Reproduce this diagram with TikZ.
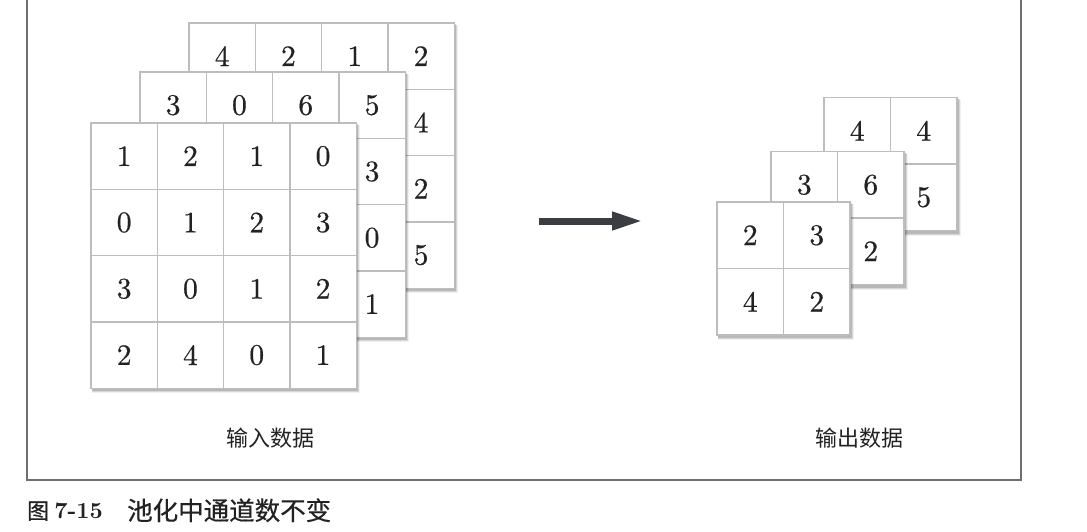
\documentclass[tikz,border=0pt]{standalone}
\usepackage{fontspec}
\newfontfamily\cjk{Noto Sans CJK SC}
\newfontfamily\cjkcap{Noto Sans CJK SC}[FakeBold=0.5]
\newfontfamily\numfont{Latin Modern Roman}[FakeBold=0.6]
\usetikzlibrary{arrows.meta}
\definecolor{gridgray}{HTML}{BDBDBD}
\definecolor{framegray}{HTML}{707070}
\definecolor{arrowdark}{HTML}{3A3D42}
\definecolor{textdark}{HTML}{222222}
\tikzset{
  gridline/.style={draw=gridgray, line width=1.4pt},
  num/.style={font=\numfont\fontsize{10}{10}\selectfont, scale=2.95, text=textdark, inner sep=0pt},
  lab/.style={font=\cjk\fontsize{22}{22}\selectfont, text=textdark, inner sep=0pt},
  framestyle/.style={draw=framegray, line width=1.5pt},
  bigarrow/.style={draw=arrowdark, line width=7pt, -{Triangle[length=31pt,width=17pt]}},
}
% #1 prefix, #2 x, #3 y, #4 n, #5 cell size, #6 values
\newcommand{\pgrid}[6]{%
  \begin{scope}[shift={(#2,#3)}]
    \pgfmathsetmacro{\gw}{#4*#5}
    \fill[black, opacity=.06] (1,2) rectangle (\gw+4,\gw+5);
    \fill[black, opacity=.10] (1,1.5) rectangle (\gw+3,\gw+4);
    \fill[black, opacity=.14] (0.5,1) rectangle (\gw+2,\gw+3);
    \fill[white] (0,0) rectangle (\gw,\gw);
    \foreach \i in {1,...,#4} {
      \pgfmathsetmacro{\p}{\i*#5}
      \draw[gridline] (\p,0) -- (\p,\gw);
      \draw[gridline] (0,\p) -- (\gw,\p);
    }
    \draw[gridline] (0,0) rectangle (\gw,\gw);
    \foreach \v [count=\k from 0] in {#6} {
      \pgfmathtruncatemacro{\r}{\k/#4}
      \pgfmathtruncatemacro{\c}{mod(\k,#4)}
      \node[num] (#1-\k) at ({(\c+0.5)*#5},{(\r+0.5)*#5}) {\v};
    }
  \end{scope}
}
\begin{document}
\begin{tikzpicture}[x=1pt, y=-1pt]
  \useasboundingbox (0,0) rectangle (1087,531);
  \fill[white] (0,0) rectangle (1087,531);
  % frame
  \draw[framestyle] (27,-2) -- (27,480) -- (1021,480) -- (1021,-2);
  % input grids
  \pgrid{ib}{189}{23}{4}{66.3}{4,2,1,2,0,0,0,4,0,0,0,2,0,0,0,5}
  \pgrid{im}{140}{72}{4}{66.3}{3,0,6,5,0,0,0,3,0,0,0,0,0,0,0,1}
  \pgrid{if}{91}{123}{4}{66.3}{1,2,1,0,0,1,2,3,3,0,1,2,2,4,0,1}
  % output grids
  \pgrid{ob}{824}{97.5}{2}{66.5}{4,4,0,5}
  \pgrid{om}{771}{151.5}{2}{66.5}{3,6,0,2}
  \pgrid{of}{717}{202}{2}{66.5}{2,3,4,2}
  % arrow
  \coordinate (arrS) at (539,221);
  \coordinate (arrE) at (643,221);
  \draw[bigarrow] (arrS) -- (arrE);
  % labels
  \node[lab] (inlab) at (270,438) {输入数据};
  \node[lab] (outlab) at (859,438) {输出数据};
  % caption
  \node[font=\cjkcap\fontsize{22}{22}\selectfont, text=textdark, inner sep=0pt, anchor=base west] (capfig) at (27,519) {图};
  \node[font=\bfseries\fontsize{10}{10}\selectfont, scale=2.3, text=textdark, inner sep=0pt, anchor=base west] (capnum) at (54,518) {7-15};
  \node[font=\cjkcap\fontsize{25.5}{25.5}\selectfont, text=textdark, inner sep=0pt, anchor=base west] (captxt) at (127,520) {池化中通道数不变};
\end{tikzpicture}
\end{document}
